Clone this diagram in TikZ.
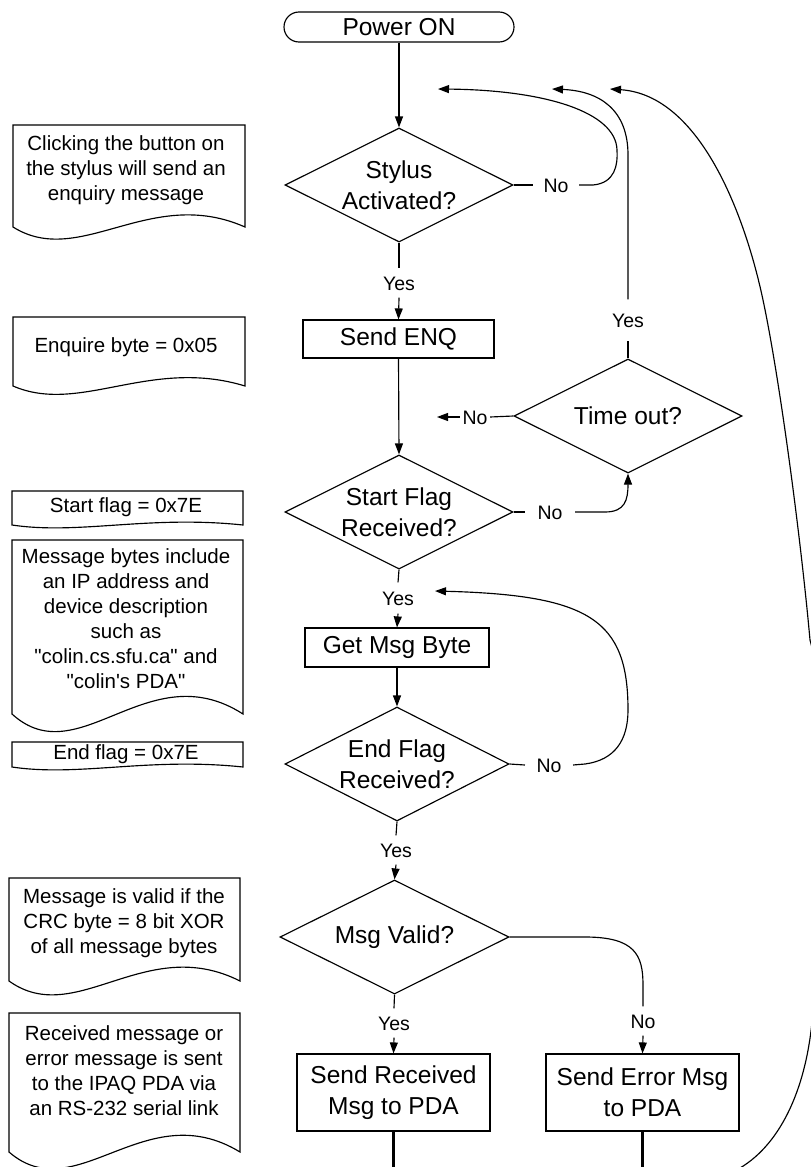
\documentclass[tikz,border=0pt]{standalone}
\usepackage{fontspec}
\setmainfont{Liberation Sans}
\newfontfamily\arialf{Liberation Sans}
\usetikzlibrary{shapes.geometric,arrows.meta}
\newcommand\nodefnt{\arialf\fontsize{24.5}{31}\selectfont}
\newcommand\notefnt{\arialf\fontsize{20.5}{25}\selectfont}
\newcommand\lblfnt{\arialf\fontsize{19.5}{23}\selectfont}
\begin{document}
\begin{tikzpicture}[x=1pt,y=-1pt,line width=1.15pt,
  >={Triangle[length=11pt,width=8pt]},
  dec/.style={draw,diamond,aspect=2,minimum width=228pt,minimum height=114pt,inner sep=0pt},
  dtext/.style={font=\nodefnt,align=center,inner sep=0pt},
  pbox/.style={draw,rectangle,inner sep=0pt,font=\nodefnt,align=center},
  lbl/.style={font=\lblfnt,text height=14pt,text depth=0pt,inner xsep=10pt,inner ysep=6pt},
  notetxt/.style={font=\notefnt,align=center,inner sep=0pt},
  notebox/.style={draw},
  flow/.style={->},
  thickout/.style={line width=2.3pt}]

\path[fill=white,use as bounding box] (0,0) rectangle (811,1167);

% ---------- notes (document shapes) ----------
\draw[notebox] (13,227) -- (13,125) -- (245,125) -- (245,227) .. controls (150,185) and (80,269) .. (13,227) -- cycle;
\node[notetxt] (n1) at (126,170) {Clicking the button on\\the stylus will send an\\enquiry message};

\draw[notebox] (13,386) -- (13,317) -- (245,317) -- (245,386) .. controls (150,357) and (80,415) .. (13,386) -- cycle;
\node[notetxt] (n2) at (126,347) {Enquire byte = 0x05};

\draw[notebox] (12,525) -- (12,491) -- (243,491) -- (243,525) .. controls (148,515) and (79,535) .. (12,525) -- cycle;
\node[notetxt] (n3) at (126,507) {Start flag = 0x7E};

\draw[notebox] (12,714) -- (12,540) -- (243,540) -- (243,714) .. controls (148,653) and (79,775) .. (12,714) -- cycle;
\node[notetxt] (n4) at (126,619) {Message bytes include\\an IP address and\\device description\\such as\\"colin.cs.sfu.ca" and\\"colin's PDA"};

\draw[notebox] (12,767) -- (12,742) -- (243,742) -- (243,767) .. controls (148,757) and (79,777) .. (12,767) -- cycle;
\node[notetxt] (n5) at (126,754) {End flag = 0x7E};

\draw[notebox] (9,981) -- (9,878) -- (240,878) -- (240,981) .. controls (145,933) and (76,1029) .. (9,981) -- cycle;
\node[notetxt] (n6) at (124,923) {Message is valid if the\\CRC byte = 8 bit XOR\\of all message bytes};

\draw[notebox] (9,1152) -- (9,1013) -- (240,1013) -- (240,1152) .. controls (145,1094) and (76,1210) .. (9,1152) -- cycle;
\node[notetxt] (n7) at (124,1071) {Received message or\\error message is sent\\to the IPAQ PDA via\\an RS-232 serial link};

% ---------- flow nodes ----------
\node[draw,rounded corners=15pt,minimum width=230pt,minimum height=30pt,inner sep=0pt,font=\nodefnt] (power) at (399,27) {Power ON};
\node[dec,label={[dtext]center:{Stylus\\Activated?}}] (stylus) at (399,185) {};
\node[pbox,minimum width=191pt,minimum height=38pt] (enq) at (398.5,339) {Send ENQ};
\node[dec,label={[dtext]center:{Time out?}}] (timeout) at (628,416) {};
\node[dec,label={[dtext]center:{Start Flag\\Received?}}] (start) at (399,512) {};
\node[pbox,minimum width=184pt,minimum height=39pt] (getmsg) at (397,647.5) {Get Msg Byte};
\node[dec,minimum width=224pt,label={[dtext]center:{End Flag\\Received?}}] (endf) at (397,764) {};
\node[dec,minimum width=229pt,label={[dtext]center:{Msg Valid?}}] (valid) at (394.5,937) {};
\node[pbox,minimum width=193pt,minimum height=77pt] (sendrx) at (393.5,1092.5) {Send Received\\Msg to PDA};
\node[pbox,minimum width=193pt,minimum height=77pt] (senderr) at (642.5,1092.5) {Send Error Msg\\to PDA};

% ---------- labels ----------
\node[lbl,inner ysep=7pt] (yes1) at (399,283) {Yes};
\node[lbl] (no1) at (556,185) {No};
\node[lbl,inner ysep=13pt] (yes2) at (628,320) {Yes};
\node[lbl,inner xsep=2pt] (no3) at (475,417) {No};
\node[lbl,inner xsep=12pt] (no2) at (550,512) {No};
\node[lbl,inner ysep=8pt] (yes3) at (398,598) {Yes};
\node[lbl,inner xsep=11pt] (no4) at (549,765) {No};
\node[lbl,inner ysep=7pt] (yes4) at (396,850) {Yes};
\node[lbl,inner ysep=7pt] (yes5) at (394,1023) {Yes};
\node[lbl,inner ysep=7pt] (no5) at (643,1021) {No};

% ---------- free ends ----------
\coordinate (tipA) at (438,89);
\coordinate (tipB) at (552,89);
\coordinate (tipE) at (610,89);
\coordinate (tipC) at (437,417);
\coordinate (tipD) at (435,591);
\coordinate (bot1) at (393.5,1170);
\coordinate (bot2) at (642.5,1170);
\coordinate (bot3) at (740,1168);

% ---------- connectors ----------
\draw[flow] (power.south) -- (stylus.north);
\draw (stylus.south) -- (yes1.north);
\draw[flow] (yes1.south) -- (enq.north);
\draw[flow] (enq.south) -- (start.north);
\draw (stylus.east) -- (no1.west);
\draw[flow] (no1.east) -- (593,185) .. controls (615,183) and (618,165) .. (617,150)
   .. controls (616,112) and (545,90) .. (tipA);
\draw (start.east) -- (no2.west);
\draw[flow] (no2.east) -- (605,512) .. controls (625,512) and (628,500) .. (timeout.south);
\draw (timeout.north) -- (yes2.south);
\draw[flow] (yes2.north) -- (628,155) .. controls (628,110) and (600,91) .. (tipB);
\draw (timeout.west) -- (no3.east);
\draw[flow] (no3.west) -- (tipC);
\draw (start.south) -- (yes3.north);
\draw[flow] (yes3.south) -- (getmsg.north);
\draw[flow] (getmsg.south) -- (endf.north);
\draw (endf.east) -- (no4.west);
\draw[flow] (no4.east) -- (585,764) .. controls (615,760) and (628,740) .. (628,710)
   .. controls (628,620) and (590,595) .. (tipD);
\draw (endf.south) -- (yes4.north);
\draw[flow] (yes4.south) -- (valid.north);
\draw (valid.south) -- (yes5.north);
\draw[flow] (yes5.south) -- (sendrx.north);
\draw (valid.east) -- (585,937) .. controls (635,937) and (643,955) .. (643,985) -- (no5.north);
\draw[flow] (no5.south) -- (senderr.north);
\draw[thickout] (sendrx.south) -- (bot1);
\draw[thickout] (senderr.south) -- (bot2);
\draw[flow] (bot3) .. controls (782,1143) and (808,1085) .. (813,1010)
   .. controls (832,880) and (832,720) .. (810,640)
   .. controls (801,540) and (780,380) .. (763,300)
   .. controls (745,215) and (700,95) .. (tipE);
\end{tikzpicture}
\end{document}
